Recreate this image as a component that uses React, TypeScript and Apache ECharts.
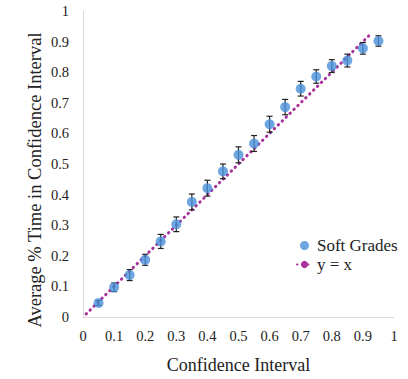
import React, { useEffect, useRef } from "react";
import * as echarts from "echarts";

const xValues = [0.05, 0.1, 0.15, 0.2, 0.25, 0.3, 0.35, 0.4, 0.45, 0.5, 0.55, 0.6, 0.65, 0.7, 0.75, 0.8, 0.85, 0.9, 0.95];
const softGrades = [0.046, 0.097, 0.137, 0.187, 0.247, 0.303, 0.376, 0.421, 0.476, 0.53, 0.567, 0.63, 0.686, 0.746, 0.786, 0.82, 0.838, 0.878, 0.902];
const errors = [0.008, 0.014, 0.018, 0.018, 0.023, 0.024, 0.026, 0.026, 0.024, 0.026, 0.026, 0.026, 0.025, 0.024, 0.022, 0.021, 0.021, 0.019, 0.017];
const refX = [0.01, 0.92];
const refY = [0.01, 0.92];
const yTitle = "Average % Time in Confidence Interval";
const xTitle = "Confidence Interval";

const FONT = "'Liberation Serif', 'Times New Roman', serif";

export default function App() {
  const ref = useRef<HTMLDivElement>(null);
  useEffect(() => {
    if (!ref.current) return;
    const chart = echarts.init(ref.current, undefined, { renderer: "svg" });
    const scatterData = xValues.map((x, i) => [x, softGrades[i]]);
    const errData = xValues.map((x, i) => [x, softGrades[i] - errors[i], softGrades[i] + errors[i]]);
    const lineData = refX.map((x, i) => [x, refY[i]]);
    chart.setOption({
      animation: false,
      textStyle: { fontFamily: FONT },
      grid: { left: 83, top: 11, width: 311, height: 320, containLabel: false },
      graphic: [
        {
          type: "text",
          x: 35,
          y: 180,
          rotation: Math.PI / 2,
          style: {
            text: yTitle,
            fontFamily: FONT,
            fontSize: 18.5,
            fill: "#222",
            align: "center",
            verticalAlign: "middle",
          },
        },
      ],
      xAxis: {
        type: "value",
        min: 0,
        max: 1,
        interval: 0.1,
        name: xTitle,
        nameLocation: "middle",
        nameGap: 39,
        nameTextStyle: { fontFamily: FONT, fontSize: 18, color: "#222" },
        axisLine: { show: true, lineStyle: { color: "#d9d9d9", width: 1 } },
        axisTick: { show: false },
        splitLine: { show: false },
        axisLabel: { fontFamily: FONT, fontSize: 14.5, color: "#222", margin: 11 },
      },
      yAxis: {
        type: "value",
        min: 0,
        max: 1,
        interval: 0.1,
        axisLine: { show: true, lineStyle: { color: "#d9d9d9", width: 1 } },
        axisTick: { show: false },
        splitLine: { show: false },
        axisLabel: { fontFamily: FONT, fontSize: 14.5, color: "#222", margin: 14 },
      },
      legend: {
        orient: "vertical",
        left: 291,
        top: 232,
        itemWidth: 15,
        itemHeight: 9,
        itemGap: 2,
        textStyle: { fontFamily: FONT, fontSize: 17, color: "#222" },
        data: [
          { name: "Soft Grades", icon: "circle" },
          { name: "y = x" },
        ],
      },
      series: [
        {
          name: "y = x",
          type: "line",
          data: lineData,
          symbol: "none",
          z: 1,
          lineStyle: { color: "#a8329c", width: 3, type: [0.5, 5], cap: "round" },
          itemStyle: { color: "#a8329c" },
        },
        {
          name: "err",
          type: "custom",
          z: 2,
          data: errData,
          renderItem: (params: any, api: any) => {
            const x = api.value(0);
            const lo = api.value(1);
            const hi = api.value(2);
            const p1 = api.coord([x, hi]);
            const p2 = api.coord([x, lo]);
            const w = 3;
            const st = { stroke: "#222", lineWidth: 1.2 };
            return {
              type: "group",
              children: [
                { type: "line", shape: { x1: p1[0], y1: p1[1], x2: p2[0], y2: p2[1] }, style: st },
                { type: "line", shape: { x1: p1[0] - w, y1: p1[1], x2: p1[0] + w, y2: p1[1] }, style: st },
                { type: "line", shape: { x1: p2[0] - w, y1: p2[1], x2: p2[0] + w, y2: p2[1] }, style: st },
              ],
            };
          },
        },
        {
          name: "Soft Grades",
          type: "scatter",
          z: 3,
          data: scatterData,
          symbol: "circle",
          symbolSize: 10,
          itemStyle: { color: "#4a90d9" },
        },
      ],
    });
    return () => chart.dispose();
  }, []);
  return (
    <div
      ref={ref}
      style={{ position: "fixed", left: 0, top: 0, width: 408, height: 379, background: "#fff" }}
    />
  );
}
